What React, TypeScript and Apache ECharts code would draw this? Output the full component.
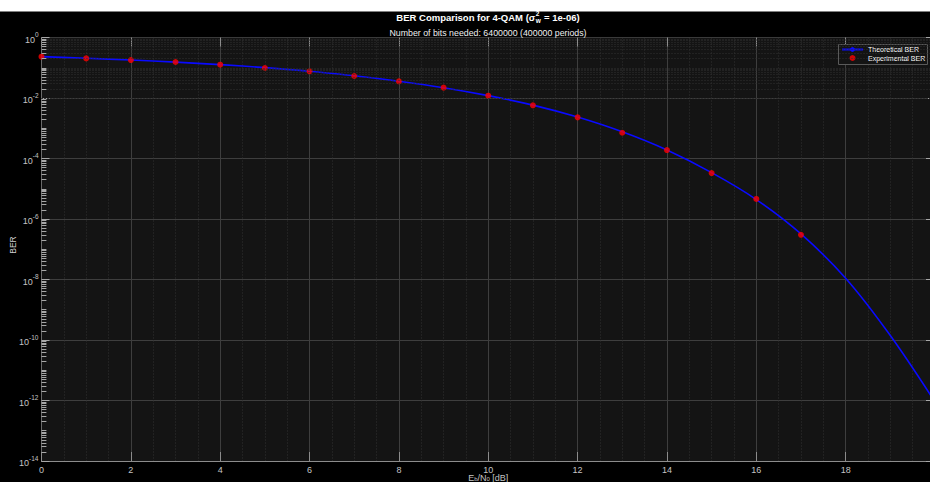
import React, { useEffect, useRef } from "react";
import * as echarts from "echarts";

// ---- data ----
const ebN0Theory = [0, 1, 2, 3, 4, 5, 6, 7, 8, 9, 10, 11, 12, 13, 14, 15, 16, 17, 18, 19, 20];
const berTheory = [
  0.233, 0.206, 0.18, 0.153, 0.127, 0.101, 0.0767, 0.0543, 0.0359, 0.0219, 0.012,
  0.00582, 0.00234, 7.6e-4, 1.9e-4, 3.4e-5, 4.4e-6, 3.2e-7, 1.1e-8, 1.4e-10, 8.9e-13,
];
const ebN0Exp = [0, 1, 2, 3, 4, 5, 6, 7, 8, 9, 10, 11, 12, 13, 14, 15, 16, 17];
const berExp = [
  0.232, 0.204, 0.18, 0.155, 0.126, 0.098, 0.0762, 0.0533, 0.0356, 0.022, 0.0119,
  0.00573, 0.00229, 7.1e-4, 1.9e-4, 3.3e-5, 4.6e-6, 3.0e-7,
];
const xTickValues = [0, 2, 4, 6, 8, 10, 12, 14, 16, 18];
const yDecadeExponents = [0, -1, -2, -3, -4, -5, -6, -7, -8, -9, -10, -11, -12, -13, -14];
const minorMultipliers = [2, 3, 4, 5, 6, 7, 8, 9];

const titlePre = "BER Comparison for 4-QAM (σ";
const titleSup = "2";
const titleSub = "w";
const titlePost = " = 1e-06)";
const subtitle = "Number of bits needed: 6400000 (400000 periods)";
const seriesNames = ["Theoretical BER", "Experimental BER"];

const FONT = '"Liberation Sans", Arial, Helvetica, sans-serif';

function measure(text: string, font: string): number {
  const c = document.createElement("canvas").getContext("2d");
  if (!c) return text.length * 5;
  c.font = font;
  return c.measureText(text).width;
}

export default function App() {
  const ref = useRef<HTMLDivElement>(null);

  useEffect(() => {
    if (!ref.current) return;
    const chart = echarts.init(ref.current, undefined, { renderer: "svg" });

    const W = 930;
    const gridLeft = 41.5;
    const gridTop = 37.5;
    const gridWidth = 893.5;
    const gridHeight = 423.5;
    const cx = 488;

    // minor grid values (log decoration)
    const minorVals: number[] = [];
    for (let e = -14; e < 0; e++) {
      for (const m of minorMultipliers) minorVals.push(m * Math.pow(10, e));
    }
    for (const e of yDecadeExponents) if (e % 2 !== 0) minorVals.push(Math.pow(10, e));

    const minorLineStyle = { color: "#303030", type: [1, 2] as any, width: 1 };
    const tickStyle = { color: "#a8a8a8", width: 1, type: "solid" as const };
    const markData: any[] = [];
    for (const v of minorVals) {
      markData.push({ yAxis: v, lineStyle: minorLineStyle });
      markData.push([
        { coord: [0, v], lineStyle: tickStyle },
        { coord: [0.11, v] },
      ]);
      markData.push([
        { coord: [19.89, v], lineStyle: tickStyle },
        { coord: [20, v] },
      ]);
    }

    // title pieces
    const tFont = `bold 9.5px ${FONT}`;
    const sFont = `bold 6.5px ${FONT}`;
    const w1 = measure(titlePre, tFont);
    const w2 = Math.max(measure(titleSup, sFont), measure(titleSub, sFont));
    const w3 = measure(titlePost, tFont);
    const tx0 = cx - (w1 + w2 + 1 + w3) / 2;
    const ty = 17;

    const option: any = {
      animation: false,
      backgroundColor: "#000000",
      textStyle: { fontFamily: FONT },
      grid: {
        left: gridLeft,
        top: gridTop,
        width: gridWidth,
        height: gridHeight,
        backgroundColor: "#141414",
        show: true,
        borderWidth: 0,
        containLabel: false,
        outerBoundsMode: "none",
      },
      legend: {
        left: 841,
        top: 45.5,
        orient: "vertical",
        padding: 0,
        itemWidth: 21,
        itemHeight: 6,
        itemGap: 0.5,
        textStyle: { color: "#ffffff", fontSize: 7, fontFamily: FONT, lineHeight: 8 },
        data: [
          { name: seriesNames[0] },
          { name: seriesNames[1], icon: "circle" },
        ],
      },
      graphic: [
        { type: "rect", left: 0, top: 0, shape: { x: 0, y: 0, width: W, height: 11.5 }, style: { fill: "#ffffff" }, z: 10 },
        {
          type: "rect",
          shape: { x: 838.5, y: 44.5, width: 89, height: 20 },
          style: { fill: "#141414", stroke: "#5a5a5a", lineWidth: 1 },
          z: 3,
        },
        { type: "text", x: tx0, y: ty, style: { text: titlePre, font: tFont, fill: "#ffffff", textAlign: "left", textVerticalAlign: "middle" }, z: 10 },
        { type: "text", x: tx0 + w1 + 0.5, y: ty - 4, style: { text: titleSup, font: sFont, fill: "#ffffff", textAlign: "left", textVerticalAlign: "middle" }, z: 10 },
        { type: "text", x: tx0 + w1 + 0.5, y: ty + 3, style: { text: titleSub, font: sFont, fill: "#ffffff", textAlign: "left", textVerticalAlign: "middle" }, z: 10 },
        { type: "text", x: tx0 + w1 + w2 + 1, y: ty, style: { text: titlePost, font: tFont, fill: "#ffffff", textAlign: "left", textVerticalAlign: "middle" }, z: 10 },
        { type: "text", x: cx, y: 32.5, style: { text: subtitle, font: `8.8px ${FONT}`, fill: "#f0f0f0", textAlign: "center", textVerticalAlign: "middle" }, z: 10 },
        { type: "text", x: 13, y: 245, rotation: Math.PI / 2, style: { text: "BER", font: `8.5px ${FONT}`, fill: "#d0d0d0", textAlign: "center", textVerticalAlign: "middle" }, z: 10 },
      ],
      xAxis: [
        {
          type: "value",
          min: 0,
          max: 20,
          interval: 2,
          position: "bottom",
          axisLine: { show: true, onZero: false, lineStyle: { color: "#8c8c8c", width: 1 } },
          axisTick: { show: true, inside: true, length: 9, lineStyle: { color: "#8c8c8c" } },
          axisLabel: {
            color: "#c4c4c4",
            fontSize: 9,
            margin: 4,
            lineHeight: 9,
            fontFamily: FONT,
            formatter: (v: number) => (xTickValues.indexOf(v) >= 0 ? String(v) : ""),
          },
          splitLine: { show: true, lineStyle: { color: "#3e3e3e", width: 1 } },
          minorTick: { show: false, splitNumber: 4 },
          minorSplitLine: { show: true, lineStyle: minorLineStyle },
          name: "{a|E}{s|b}{a|/N}{s|0}{a| [dB]}",
          nameLocation: "middle",
          nameGap: 12,
          nameMoveOverlap: false,
          nameTextStyle: {
            color: "#c4c4c4",
            rich: {
              a: { fontSize: 9, color: "#c4c4c4", fontFamily: FONT, lineHeight: 9, verticalAlign: "middle" },
              s: { fontSize: 6, color: "#c4c4c4", fontFamily: FONT, lineHeight: 9, verticalAlign: "bottom" },
            },
          },
        },
        {
          type: "value",
          min: 0,
          max: 20,
          interval: 2,
          position: "top",
          axisLine: { show: true, onZero: false, lineStyle: { color: "#3a3a3a" } },
          axisTick: { show: true, inside: true, length: 9, lineStyle: { color: "#8c8c8c" } },
          axisLabel: { show: false },
          splitLine: { show: false },
        },
      ],
      yAxis: [
        {
          type: "log",
          logBase: 10,
          min: 1e-14,
          max: 1,
          interval: 2,
          position: "left",
          axisLine: { show: true, onZero: false, lineStyle: { color: "#6a6a6a" } },
          axisTick: { show: true, inside: true, length: 8, lineStyle: { color: "#a8a8a8" } },
          axisLabel: {
            margin: 3,
            color: "#c4c4c4",
            formatter: (v: number) => {
              const e = Math.round(Math.log10(v));
              return `{b|10}{e|${e}}`;
            },
            rich: {
              b: { fontSize: 9, color: "#c4c4c4", fontFamily: FONT, lineHeight: 13, verticalAlign: "bottom" },
              e: { fontSize: 6.5, color: "#c4c4c4", fontFamily: FONT, lineHeight: 13, verticalAlign: "top" },
            },
          },
          splitLine: { show: true, lineStyle: { color: "#3e3e3e", width: 1 } },
        },
        {
          type: "log",
          logBase: 10,
          min: 1e-14,
          max: 1,
          interval: 2,
          position: "right",
          axisLine: { show: true, onZero: false, lineStyle: { color: "#3a3a3a" } },
          axisTick: { show: true, inside: true, length: 9, lineStyle: { color: "#a8a8a8" } },
          axisLabel: { show: false },
          splitLine: { show: false },
        },
      ],
      series: [
        {
          name: "_grid",
          type: "line",
          data: [],
          xAxisIndex: 0,
          yAxisIndex: 0,
          silent: true,
          z: 1,
          markLine: {
            silent: true,
            symbol: ["none", "none"],
            label: { show: false },
            emphasis: { disabled: true },
            data: markData,
          },
        },
        {
          name: seriesNames[0],
          type: "line",
          xAxisIndex: 0,
          yAxisIndex: 0,
          data: ebN0Theory.map((x, i) => [x, berTheory[i]]),
          showSymbol: false,
          symbol: "none",
          smooth: 0.35,
          lineStyle: { color: "#0a0aff", width: 1.6 },
          itemStyle: { color: "#0a0aff" },
          z: 3,
        },
        {
          name: seriesNames[1],
          type: "scatter",
          xAxisIndex: 0,
          yAxisIndex: 0,
          data: ebN0Exp.map((x, i) => [x, berExp[i]]),
          symbol: "circle",
          symbolSize: 6,
          itemStyle: { color: "#ff0000" },
          z: 4,
        },
      ],
    };

    chart.setOption(option);
    return () => chart.dispose();
  }, []);

  return (
    <div
      ref={ref}
      style={{ position: "absolute", left: 0, top: 0, width: 930, height: 482, background: "#000" }}
    />
  );
}
